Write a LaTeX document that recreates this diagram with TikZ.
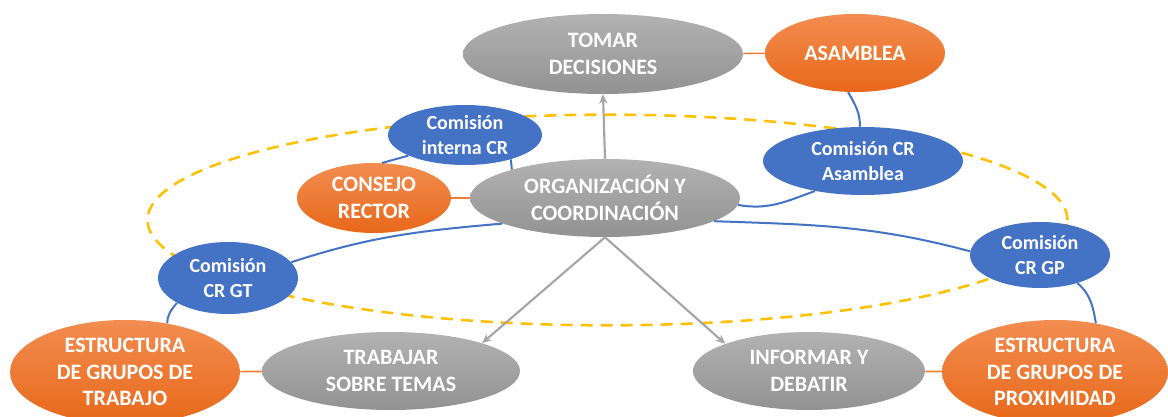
\documentclass[tikz,border=0pt]{standalone}
\usepackage{fontspec}
\setmainfont{Carlito}
\usetikzlibrary{shapes.geometric,arrows.meta,backgrounds}
\definecolor{cgT}{HTML}{B2B2B2}
\definecolor{cgB}{HTML}{929292}
\definecolor{coT}{HTML}{F28D50}
\definecolor{coB}{HTML}{E8681A}
\definecolor{cblue}{HTML}{4472C4}
\definecolor{cline}{HTML}{4472C4}
\definecolor{cor}{HTML}{ED7D31}
\definecolor{carrow}{HTML}{A5A5A5}
\definecolor{cdash}{HTML}{FFC000}
\begin{document}
\begin{tikzpicture}[x=0.75pt,y=0.75pt,
  base/.style={ellipse, inner sep=0pt, align=center, text=white, font=\bfseries\fontsize{16.5}{20}\selectfont},
  grayn/.style={base, top color=cgT, bottom color=cgB},
  orn/.style={base, top color=coT, bottom color=coB},
  bluen/.style={base, fill=cblue, font=\bfseries\fontsize{15}{18.5}\selectfont},
  bluelink/.style={draw=cline, line width=1.5pt},
  orlink/.style={draw=cor, line width=1.2pt},
  grarrow/.style={draw=carrow, line width=1.6pt, -{Stealth[length=7pt,width=6pt]}}
]
\useasboundingbox (0,0) rectangle (1168,-417);
\fill[white] (0,0) rectangle (1168,-417);
\draw[cdash, line width=1.9pt, dash pattern=on 9pt off 6pt] (607.5,-220) ellipse [x radius=345pt, y radius=79pt];

\node[grayn, minimum width=210pt, minimum height=60pt] (tomar) at (603,-54) {TOMAR\\DECISIONES};
\node[orn, minimum width=135pt, minimum height=58.5pt] (asam) at (855,-53) {ASAMBLEA};
\node[bluen, minimum width=115.5pt, minimum height=45pt] (interna) at (465,-135) {Comisión\\interna CR};
\node[orn, minimum width=115.5pt, minimum height=52.5pt] (consejo) at (374,-198) {CONSEJO\\RECTOR};
\node[grayn, minimum width=202.5pt, minimum height=58.5pt] (org) at (605,-198) {ORGANIZACIÓN Y\\COORDINACIÓN};
\node[bluen, minimum width=150pt, minimum height=51pt] (crasam) at (863,-161) {Comisión CR\\Asamblea};
\node[bluen, minimum width=105pt, minimum height=54pt] (crgt) at (228,-278) {Comisión\\CR GT};
\node[bluen, minimum width=105pt, minimum height=49.5pt] (crgp) at (1040,-255) {Comisión\\CR GP};
\node[orn, minimum width=172.5pt, minimum height=78pt] (estgt) at (125,-372) {ESTRUCTURA\\DE GRUPOS DE\\TRABAJO};
\node[grayn, minimum width=193.5pt, minimum height=58.5pt] (trab) at (391,-371) {TRABAJAR\\SOBRE TEMAS};
\node[grayn, minimum width=174pt, minimum height=58.5pt] (inf) at (809,-371) {INFORMAR Y\\DEBATIR};
\node[orn, minimum width=169.5pt, minimum height=78pt] (estgp) at (1055,-372) {ESTRUCTURA\\DE GRUPOS DE\\PROXIMIDAD};

% orange links
\draw[orlink] (tomar) -- (asam);
\draw[orlink] (consejo) -- (org);
\draw[orlink] (estgt) -- (trab);
\draw[orlink] (inf) -- (estgp);

% blue links
\draw[bluelink] (asam.-100) to[out=-60, in=90] (crasam.95);
\draw[bluelink] (interna.-160) -- (consejo.77);
\draw[bluelink] (interna.-28) -- (org.163);
\draw[bluelink] (org.-3) to[out=-10, in=200] (crasam.-148);
\draw[bluelink] (crgt.14) to[out=18, in=185] (org.-166);
\draw[bluelink] (org.-12) to[out=-2, in=165] (crgp.177);
\draw[bluelink] (crgt.-154) to[out=-130, in=90] (estgt.49);
\draw[bluelink] (crgp.-37) to[out=-40, in=100] (estgp.50);

% gray arrows
\draw[grarrow] (org.north) -- (tomar.south);
\draw[grarrow] (org.south) -- (trab.17);
\draw[grarrow] (org.south) -- (inf.162);
\end{tikzpicture}
\end{document}
